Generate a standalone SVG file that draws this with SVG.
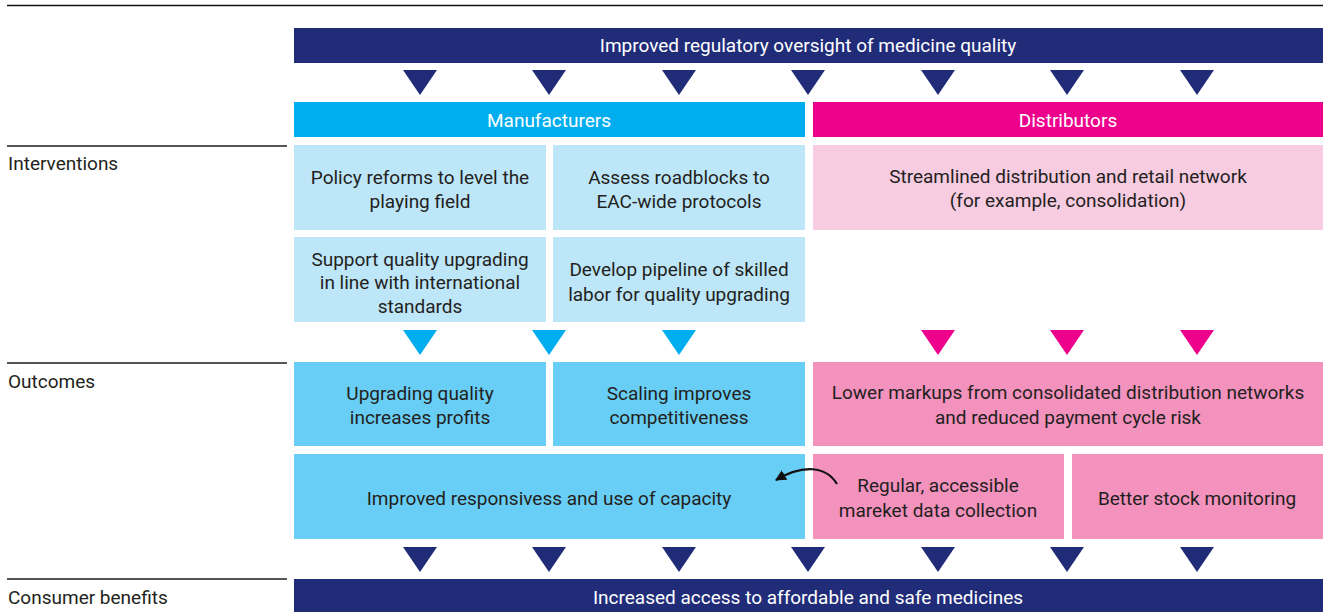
<svg xmlns="http://www.w3.org/2000/svg" width="1323" height="612" viewBox="0 0 1323 612">
<defs>
<style>
text{font-family:Roboto,"Liberation Sans",sans-serif;font-size:19px;fill:#231f20;text-anchor:middle}
.w{fill:#ffffff}
.lbl{text-anchor:start}
.navy{fill:#212c79}
.cyan{fill:#00aeef}
.mag{fill:#ec008c}
.lb{fill:#bde6f9}
.lp{fill:#f7cbe0}
.ob{fill:#68cef5}
.op{fill:#f392bd}
.rule{stroke:#555;stroke-width:2}
</style>
<polygon id="tri" points="-17,0 17,0 0,25"/>
<marker id="ah" viewBox="0 0 10 10" refX="9" refY="5" markerWidth="5" markerHeight="5" orient="auto">
<path d="M0,0 L10,5 L0,10 z" fill="#111"/>
</marker>
</defs>
<rect width="1323" height="612" fill="#ffffff"/>
<line x1="7" y1="5.5" x2="1323" y2="5.5" stroke="#111" stroke-width="1.6"/>
<g id="labels">
<line class="rule" x1="7" y1="146" x2="287" y2="146"/>
<text class="lbl" x="8" y="170">Interventions</text>
<line class="rule" x1="7" y1="363" x2="287" y2="363"/>
<text class="lbl" x="8" y="388">Outcomes</text>
<line class="rule" x1="7" y1="579" x2="287" y2="579"/>
<text class="lbl" x="8" y="604">Consumer benefits</text>
</g>
<g id="top">
<rect class="navy" x="294" y="28" width="1029" height="35"/>
<text class="w" x="808" y="52">Improved regulatory oversight of medicine quality</text>
</g>
<g id="manufacturers">
<rect class="cyan" x="294" y="102" width="511" height="35"/>
<text class="w" x="549" y="127">Manufacturers</text>
</g>
<g id="distributors">
<rect class="mag" x="813" y="102" width="510" height="35"/>
<text class="w" x="1068" y="127">Distributors</text>
</g>
<g id="i1">
<rect class="lb" x="294" y="145" width="252" height="85"/>
<text x="420" y="184">Policy reforms to level the</text>
<text x="420" y="208">playing field</text>
</g>
<g id="i2">
<rect class="lb" x="553" y="145" width="252" height="85"/>
<text x="679" y="184">Assess roadblocks to</text>
<text x="679" y="208">EAC-wide protocols</text>
</g>
<g id="i3">
<rect class="lp" x="813" y="145" width="510" height="85"/>
<text x="1068" y="183">Streamlined distribution and retail network</text>
<text x="1068" y="207">(for example, consolidation)</text>
</g>
<g id="i4">
<rect class="lb" x="294" y="237" width="252" height="85"/>
<text x="420" y="266">Support quality upgrading</text>
<text x="420" y="289">in line with international</text>
<text x="420" y="313">standards</text>
</g>
<g id="i5">
<rect class="lb" x="553" y="237" width="252" height="85"/>
<text x="679" y="276">Develop pipeline of skilled</text>
<text x="679" y="301">labor for quality upgrading</text>
</g>
<g id="o1">
<rect class="ob" x="294" y="362" width="252" height="84"/>
<text x="420" y="400">Upgrading quality</text>
<text x="420" y="424">increases profits</text>
</g>
<g id="o2">
<rect class="ob" x="553" y="362" width="252" height="84"/>
<text x="679" y="400">Scaling improves</text>
<text x="679" y="424">competitiveness</text>
</g>
<g id="o3">
<rect class="op" x="813" y="362" width="510" height="84"/>
<text x="1068" y="399">Lower markups from consolidated distribution networks</text>
<text x="1068" y="424">and reduced payment cycle risk</text>
</g>
<g id="o4">
<rect class="ob" x="294" y="454" width="511" height="85"/>
<text x="549" y="505">Improved responsivess and use of capacity</text>
</g>
<g id="o5">
<rect class="op" x="813" y="454" width="251" height="85"/>
<text x="938" y="492">Regular, accessible</text>
<text x="938" y="517">mareket data collection</text>
</g>
<g id="o6">
<rect class="op" x="1072" y="454" width="251" height="85"/>
<text x="1197" y="505">Better stock monitoring</text>
</g>
<g id="bottom">
<rect class="navy" x="294" y="579" width="1029" height="33"/>
<text class="w" x="808" y="604">Increased access to affordable and safe medicines</text>
</g>
<g id="connectors">
<g class="navy">
<use href="#tri" x="420" y="70"/><use href="#tri" x="549" y="70"/><use href="#tri" x="679" y="70"/><use href="#tri" x="808" y="70"/><use href="#tri" x="938" y="70"/><use href="#tri" x="1067" y="70"/><use href="#tri" x="1197" y="70"/>
<use href="#tri" x="420" y="547"/><use href="#tri" x="549" y="547"/><use href="#tri" x="679" y="547"/><use href="#tri" x="808" y="547"/><use href="#tri" x="938" y="547"/><use href="#tri" x="1067" y="547"/><use href="#tri" x="1197" y="547"/>
</g>
<g class="cyan">
<use href="#tri" x="420" y="330"/><use href="#tri" x="549" y="330"/><use href="#tri" x="679" y="330"/>
</g>
<g class="mag">
<use href="#tri" x="938" y="330"/><use href="#tri" x="1067" y="330"/><use href="#tri" x="1197" y="330"/>
</g>
<path d="M837,484 C826,466 803,464 776,480" fill="none" stroke="#111" stroke-width="2.2" marker-end="url(#ah)"/>
</g>
</svg>
